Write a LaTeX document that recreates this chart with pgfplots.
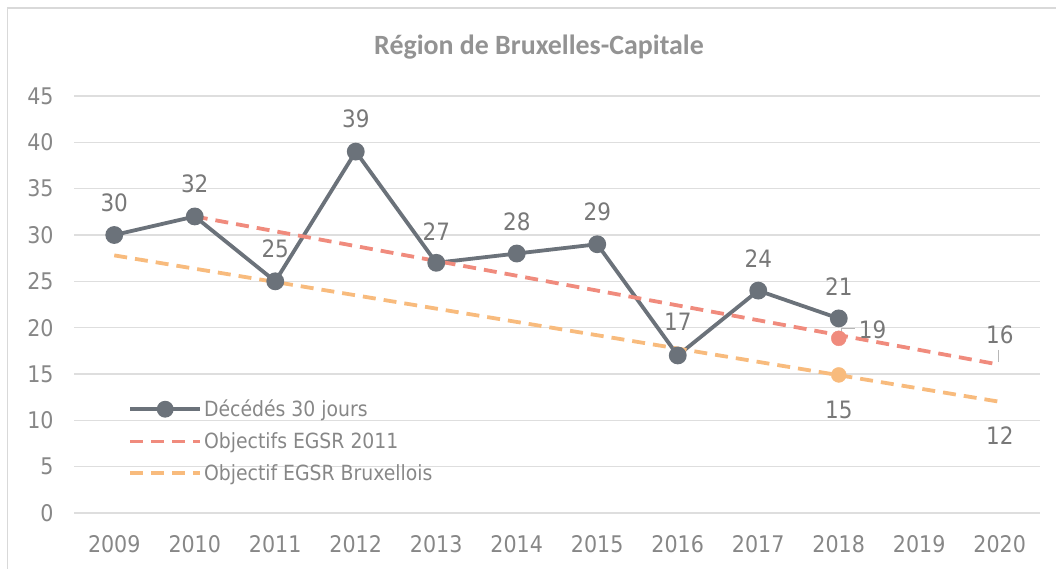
\documentclass[border=0pt]{standalone}
\usepackage{fontspec}
\setmainfont{DejaVu Sans Condensed}
\newfontfamily\titlefont{Carlito}
\usepackage{pgfplots}
\pgfplotsset{compat=1.18}
\definecolor{gline}{RGB}{107,114,122}
\definecolor{rline}{RGB}{240,139,125}
\definecolor{oline}{RGB}{248,187,125}
\definecolor{txt}{RGB}{135,135,135}
\definecolor{lbl}{RGB}{120,120,120}
\definecolor{gridc}{RGB}{222,222,222}
\definecolor{framec}{RGB}{217,217,217}
\pgfplotsset{
  greyleg/.style={legend image code/.code={\draw[##1,mark=none] (0bp,0bp)--(70bp,0bp); \fill[gline] (35bp,0bp) circle (6.5bp);}},
  dashleg/.style={legend image code/.code={\draw[##1] (0bp,0bp)--(70bp,0bp);}},
}
\begin{document}
\begin{tikzpicture}[x=1bp,y=1bp]
\useasboundingbox (0,0) rectangle (1056,569);
\draw[framec,line width=1.2bp] (7.5,-20) -- (7.5,561) -- (1080,561);
\node[font=\titlefont\bfseries\fontsize{28}{32}\selectfont,text=txt!90!white] at (539,522) {Région de Bruxelles-Capitale};
\begin{axis}[
  at={(74bp,56bp)}, anchor=south west,
  scale only axis, width=966bp, height=417bp,
  xmin=2008.5, xmax=2020.5, ymin=0, ymax=45,
  xtick={2009,...,2020}, ytick={0,5,...,45},
  /pgf/number format/assume math mode=true,
  /pgf/number format/1000 sep={},
  axis line style={draw=none}, major tick length=0,
  ymajorgrids, xmajorgrids=false, grid style={gridc,line width=1.3bp},
  ticklabel style={font=\fontsize{23}{27}\selectfont,text=txt},
  yticklabel style={xshift=-17bp},
  xticklabel style={yshift=-19bp},
  clip=false,
  legend style={at={(0.056,0.276)}, anchor=north west, draw=none, fill=none,
    font=\fontsize{21}{25}\selectfont, text=txt, row sep=10.5bp,
    inner xsep=0bp, inner ysep=0bp},
  legend cell align=left,
]
\addplot[gline, line width=3.8bp, mark=*, mark size=7bp, mark options={solid,fill=gline}, greyleg]
  coordinates {(2009,30)(2010,32)(2011,25)(2012,39)(2013,27)(2014,28)(2015,29)(2016,17)(2017,24)(2018,21)};
\addlegendentry{Décédés 30 jours}
\addplot[rline, line width=3.8bp, dash pattern=on 13bp off 8bp, dashleg]
  coordinates {(2010,32)(2020,16)};
\addlegendentry{Objectifs EGSR 2011}
\addplot[oline, line width=3.8bp, dash pattern=on 13bp off 8bp, dashleg]
  coordinates {(2009,27.8)(2020,12)};
\addlegendentry{Objectif EGSR Bruxellois}
\addplot[only marks, mark=*, mark size=7.5bp, color=rline, forget plot] coordinates {(2018,18.85)};
\addplot[only marks, mark=*, mark size=7.5bp, color=oline, forget plot] coordinates {(2018,14.9)};
\begin{scope}[font=\fontsize{24}{28}\selectfont, text=lbl]
\node at (axis cs:2009,33.45) {30};
\node at (axis cs:2010,35.5) {32};
\node at (axis cs:2011,28.5) {25};
\node at (axis cs:2012,42.5) {39};
\node at (axis cs:2013,30.4) {27};
\node at (axis cs:2014,31.4) {28};
\node at (axis cs:2015,32.5) {29};
\node at (axis cs:2016,20.6) {17};
\node at (axis cs:2017,27.4) {24};
\node at (axis cs:2018,24.4) {21};
\node at (axis cs:2018.42,19.75) {19};
\node at (axis cs:2020,19.2) {16};
\node at (axis cs:2018,11.1) {15};
\node at (axis cs:2020,8.4) {12};
\end{scope}
\draw[txt!60!white, line width=1bp] (axis cs:2018.03,19.3) -- (axis cs:2018.03,19.95) -- (axis cs:2018.2,19.95);
\draw[txt!60!white, line width=1bp] (axis cs:2019.99,17.6) -- (axis cs:2019.99,16.3);
\end{axis}
\end{tikzpicture}
\end{document}
